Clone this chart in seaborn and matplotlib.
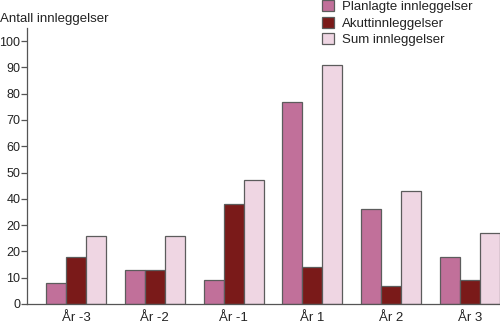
import matplotlib
matplotlib.use("Agg")
import matplotlib.pyplot as plt
import seaborn as sns
import pandas as pd

# Admissions per year relative to the index year
years = ["År -3", "År -2", "År -1", "År 1", "År 2", "År 3"]
planlagte = [8, 13, 9, 77, 36, 18]
akutt = [18, 13, 38, 14, 7, 9]
sum_innl = [26, 26, 47, 91, 43, 27]
series = ["Planlagte innleggelser", "Akuttinnleggelser", "Sum innleggelser"]
ytick_values = [0, 10, 20, 30, 40, 50, 60, 70, 80, 90, 100]
ytick_labels = ["0", "10", "20", "20", "40", "50", "60", "70", "80", "90", "100"]
colors = ["#C1709A", "#7A1A19", "#EFD6E3"]

df = pd.DataFrame({
    "year": years * 3,
    "serie": [series[0]] * 6 + [series[1]] * 6 + [series[2]] * 6,
    "value": planlagte + akutt + sum_innl,
})

plt.rcParams["font.family"] = ["Liberation Sans", "DejaVu Sans"]
plt.rcParams["font.size"] = 9.5

fig = plt.figure(figsize=(5.0, 3.27), dpi=100)
ax = fig.add_axes([27 / 500, 23 / 327, 1 - 27 / 500, (304 - 28) / 327])

sns.barplot(data=df, x="year", y="value", hue="serie", order=years,
            hue_order=series, palette=colors, width=0.76, gap=0,
            edgecolor="#5c5c5c", linewidth=0.9, saturation=1,
            errorbar=None, ax=ax)

ax.set_xlim(-0.622, 5.381)
ax.set_ylim(0, 105)
ax.set_yticks(ytick_values)
ax.set_yticklabels(ytick_labels)
ax.set_xlabel("")
ax.set_ylabel("")

for side in ["top", "right"]:
    ax.spines[side].set_visible(False)
for side in ["left", "bottom"]:
    ax.spines[side].set_color("#555555")
    ax.spines[side].set_linewidth(0.9)

ax.tick_params(axis="y", length=4.3, width=0.9, color="#555555", pad=0.6,
               labelsize=9, labelcolor="#222222")
ax.tick_params(axis="x", length=0, pad=5.5, labelsize=9.5, labelcolor="#222222")

fig.text(0.0, 1 - 22 / 327, "Antall innleggelser", ha="left", va="baseline",
         fontsize=9.5, color="#222222")

handles, labels = ax.get_legend_handles_labels()
ax.legend(handles, labels, loc="upper left", bbox_to_anchor=(322 / 500, 1.0),
          bbox_transform=fig.transFigure, frameon=False, borderpad=0,
          handlelength=0.9, handleheight=0.9, handletextpad=0.6,
          labelspacing=0.28, fontsize=9.5, labelcolor="#222222",
          borderaxespad=0)

fig.savefig("out.png", dpi=100)
